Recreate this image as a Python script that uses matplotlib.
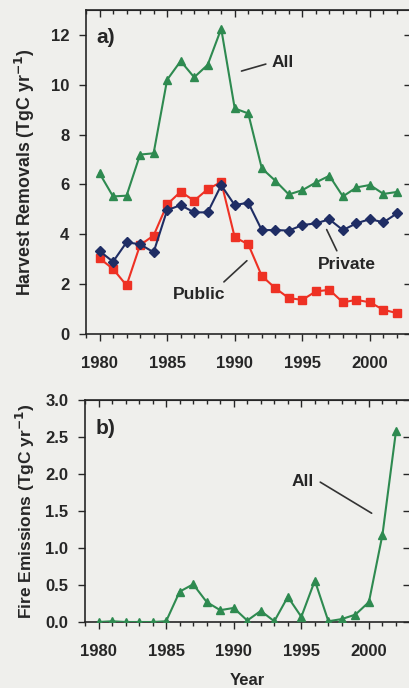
import matplotlib
matplotlib.use("Agg")
import matplotlib.pyplot as plt
from matplotlib.ticker import MultipleLocator, FormatStrFormatter

years = list(range(1980, 2003))
harvest_all = [6.45, 5.52, 5.55, 7.2, 7.25, 10.2, 10.95, 10.3, 10.8, 12.25, 9.05, 8.85,
               6.65, 6.15, 5.6, 5.77, 6.08, 6.35, 5.52, 5.88, 5.98, 5.62, 5.7]
harvest_private = [3.33, 2.9, 3.68, 3.6, 3.28, 4.97, 5.17, 4.88, 4.88, 5.97, 5.17, 5.27,
                   4.17, 4.17, 4.15, 4.37, 4.44, 4.6, 4.17, 4.44, 4.61, 4.48, 4.84]
harvest_public = [3.04, 2.61, 1.95, 3.57, 3.95, 5.2, 5.71, 5.35, 5.81, 6.1, 3.88, 3.6,
                  2.33, 1.84, 1.44, 1.37, 1.71, 1.77, 1.27, 1.37, 1.27, 0.97, 0.84]
fire_all = [0.0, 0.01, 0.0, 0.0, 0.0, 0.01, 0.41, 0.51, 0.27, 0.16, 0.19, 0.02,
            0.15, 0.01, 0.34, 0.07, 0.56, 0.01, 0.04, 0.1, 0.27, 1.18, 2.58]
x_ticks = [1980, 1985, 1990, 1995, 2000]

GREEN = "#2e8a50"
RED = "#ee3124"
NAVY = "#1f2d64"
BG = "#efefec"
INK = "#262626"
FONT = "Liberation Sans"

plt.rcParams["font.family"] = [FONT, "DejaVu Sans"]
plt.rcParams["font.weight"] = "bold"

fig = plt.figure(figsize=(4.09, 6.88), dpi=100, facecolor=BG)
W, H = 409, 688

def add_axes(left, right, top, bottom):
    return fig.add_axes([left / W, 1 - bottom / H, (right - left) / W, (bottom - top) / H])

ax1 = add_axes(86, 410.5, 10, 334)
ax2 = add_axes(85, 409.5, 400, 622)

def style(ax, ymax, ystep, fmt):
    ax.set_facecolor(BG)
    ax.set_xlim(1979, 2003)
    ax.set_ylim(0, ymax)
    for s in ax.spines.values():
        s.set_color(INK)
        s.set_linewidth(1.2)
    ax.set_xticks(x_ticks)
    ax.xaxis.set_minor_locator(MultipleLocator(1))
    ax.yaxis.set_major_locator(MultipleLocator(ystep))
    ax.tick_params(axis="x", which="major", direction="out", length=5, width=1, colors=INK,
                   labelsize=12, pad=11)
    ax.tick_params(axis="x", which="minor", direction="out", length=3, width=1, colors=INK)
    ax.tick_params(axis="y", direction="out", length=5, width=1, colors=INK, labelsize=12, pad=7)
    for lab in ax.get_xticklabels() + ax.get_yticklabels():
        lab.set_fontweight("bold")
        lab.set_color(INK)
    ax.yaxis.set_major_formatter(fmt)
    top = ax.secondary_xaxis("top")
    top.set_xticks(x_ticks)
    top.xaxis.set_minor_locator(MultipleLocator(1))
    top.tick_params(axis="x", which="major", direction="in", length=5, width=1, colors=INK, labeltop=False)
    top.tick_params(axis="x", which="minor", direction="in", length=3, width=1, colors=INK)
    top.spines["top"].set_color(INK)
    right = ax.secondary_yaxis("right")
    right.yaxis.set_major_locator(MultipleLocator(ystep))
    right.tick_params(axis="y", direction="in", length=5, width=1, colors=INK, labelright=False)

style(ax1, 13, 2, FormatStrFormatter("%d"))
style(ax2, 3.0, 0.5, FormatStrFormatter("%.1f"))

ax1.plot(years, harvest_all, color=GREEN, lw=1.5, marker="^", ms=6, mfc=GREEN, mec=GREEN, zorder=3)
ax1.plot(years, harvest_public, color=RED, lw=1.5, marker="s", ms=5.5, mfc=RED, mec=RED, zorder=3)
ax1.plot(years, harvest_private, color=NAVY, lw=1.5, marker="D", ms=5.5, mfc=NAVY, mec=NAVY, zorder=4)
ax2.plot(years, fire_all, color=GREEN, lw=1.5, marker="^", ms=6, mfc=GREEN, mec=GREEN, zorder=3)

ax1.set_ylabel("Harvest Removals (TgC yr$^{\\mathbf{-1}}$)", fontsize=12.8, fontweight="bold",
               color=INK)
ax2.set_ylabel("Fire Emissions (TgC yr$^{\\mathbf{-1}}$)", fontsize=12.5, fontweight="bold",
               color=INK)
ax2.set_xlabel("Year", fontsize=12, fontweight="bold", color=INK, labelpad=10)
ax1.yaxis.set_label_coords(-0.151, 0.5)
ax2.yaxis.set_label_coords(-0.148, 0.5)

ax1.text(1979.75, 11.9, "a)", fontsize=15, fontweight="bold", color=INK, va="center", ha="left")
ax2.text(1979.75, 2.61, "b)", fontsize=15, fontweight="bold", color=INK, va="center", ha="left")

line_kw = dict(arrowprops=dict(arrowstyle="-", color="#333333", lw=1.2, shrinkA=0, shrinkB=0))
ax1.annotate("", xy=(1990.5, 10.55), xytext=(1992.3, 10.83), **line_kw)
ax1.text(1993.55, 10.9, "All", fontsize=12.5, fontweight="bold", color=INK, ha="center", va="center")
ax1.annotate("", xy=(1996.8, 4.19), xytext=(1997.55, 3.34), **line_kw)
ax1.text(1998.3, 2.78, "Private", fontsize=12.5, fontweight="bold", color=INK, ha="center", va="center")
ax1.annotate("", xy=(1990.9, 2.94), xytext=(1989.2, 2.09), **line_kw)
ax1.text(1987.33, 1.57, "Public", fontsize=12.5, fontweight="bold", color=INK, ha="center", va="center")
ax2.annotate("", xy=(2000.2, 1.47), xytext=(1996.4, 1.89), **line_kw)
ax2.text(1995.1, 1.905, "All", fontsize=12.5, fontweight="bold", color=INK, ha="center", va="center")

fig.savefig("out.png", dpi=100, facecolor=BG)
